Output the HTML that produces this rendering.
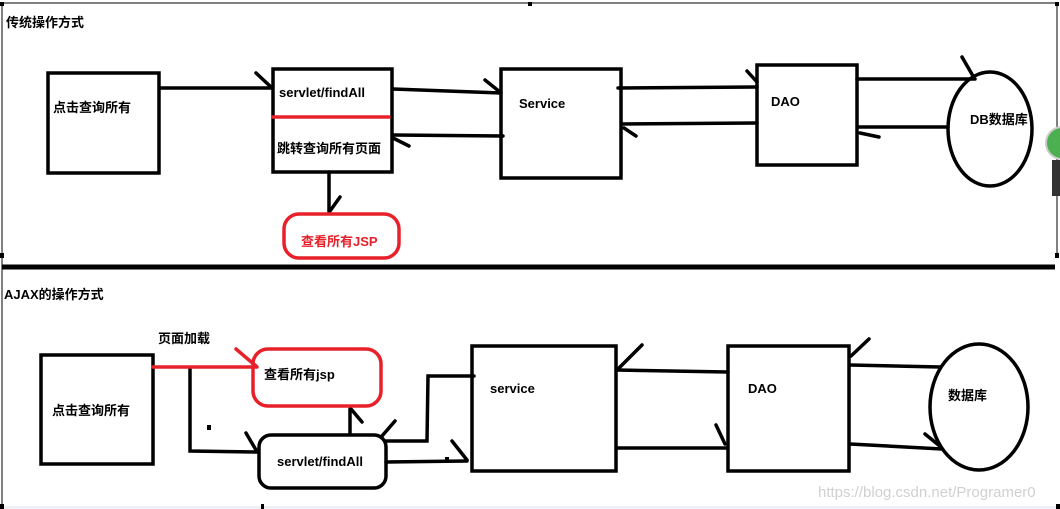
<!DOCTYPE html>
<html><head><meta charset="utf-8"><style>
html,body{margin:0;padding:0;background:#fff;}
svg{display:block;}
text{font-family:"Liberation Sans","Noto Sans CJK SC",sans-serif;font-weight:bold;font-size:13px;fill:#000;}
</style></head><body>
<svg width="1060" height="509" viewBox="0 0 1060 509" xmlns="http://www.w3.org/2000/svg">
<rect x="0" y="0" width="1060" height="509" fill="#fff"/>
<rect x="0" y="506" width="1060" height="3" fill="#eef2f6"/>
<g stroke="#000" stroke-width="1" fill="none">
<line x1="2" y1="3" x2="1057" y2="3"/>
<line x1="2" y1="3" x2="2" y2="506"/>
<line x1="1057" y1="3" x2="1057" y2="256"/>
</g>
<g fill="#000">
<rect x="0" y="2" width="4" height="4"/><rect x="528" y="2" width="4" height="4"/><rect x="1055" y="2" width="4" height="4"/>
<rect x="0" y="253" width="4" height="5"/><rect x="1055" y="253" width="4" height="5"/>
<rect x="0" y="504" width="4" height="5"/><rect x="261" y="504" width="3" height="5"/><rect x="1056" y="504" width="4" height="5"/>
</g>
<line x1="2" y1="267" x2="1055" y2="267" stroke="#000" stroke-width="5"/>

<text x="6" y="27">传统操作方式</text>
<text x="4" y="299">AJAX的操作方式</text>

<g stroke="#000" stroke-width="3.5" fill="none" stroke-linecap="round">
<rect x="48" y="73" width="111" height="100"/>
<rect x="273" y="69" width="119" height="103"/>
<rect x="501" y="69" width="120" height="109"/>
<rect x="757" y="65" width="100" height="100"/>
<ellipse cx="990" cy="129" rx="42" ry="57"/>
<line x1="160" y1="88" x2="272" y2="88"/><line x1="256" y1="73" x2="271" y2="87"/>
<line x1="393" y1="89" x2="501" y2="93"/><line x1="485" y1="80" x2="500" y2="92"/>
<line x1="503" y1="136" x2="393" y2="135"/><line x1="393" y1="138" x2="409" y2="146"/>
<line x1="618" y1="88" x2="757" y2="87"/><line x1="747" y1="71" x2="757" y2="82"/>
<line x1="757" y1="123" x2="623" y2="124"/><line x1="624" y1="128" x2="636" y2="136"/>
<line x1="857" y1="79" x2="975" y2="79"/><line x1="962" y1="57" x2="973" y2="76"/>
<line x1="948" y1="127" x2="858" y2="127"/><line x1="860" y1="133" x2="879" y2="137"/>
<line x1="329" y1="172" x2="329" y2="212"/><line x1="340" y1="197" x2="330" y2="211"/>
<rect x="41" y="355" width="112" height="109"/>
<rect x="472" y="346" width="144" height="125"/>
<rect x="728" y="346" width="121" height="125"/>
<ellipse cx="979" cy="407" rx="49" ry="63"/>
<rect x="259" y="435" width="127" height="53" rx="12"/>
<polyline points="190,369 190,451 257,452"/><line x1="246" y1="433" x2="256" y2="450"/>
<line x1="350" y1="434" x2="350" y2="409"/><line x1="351" y1="409" x2="362" y2="422"/>
<line x1="382" y1="436" x2="395" y2="421"/>
<polyline points="386,441 427,441 428,376 474,376"/>
<line x1="386" y1="462" x2="467" y2="461"/><line x1="452" y1="441" x2="467" y2="460"/>
<line x1="617" y1="370" x2="728" y2="372"/><line x1="642" y1="345" x2="619" y2="368"/>
<line x1="617" y1="448" x2="727" y2="448"/><line x1="716" y1="425" x2="725" y2="444"/>
<line x1="850" y1="365" x2="940" y2="367"/><line x1="869" y1="339" x2="851" y2="356"/>
<line x1="850" y1="444" x2="942" y2="449"/><line x1="925" y1="434" x2="941" y2="447"/>
</g>
<rect x="207" y="425" width="4" height="5" fill="#000"/>
<rect x="445" y="457" width="4" height="4" fill="#000"/>
<g stroke="#e8202a" fill="none" stroke-width="3.5" stroke-linecap="round">
<line x1="273" y1="117" x2="389" y2="117"/>
<rect x="284" y="214" width="115" height="44" rx="15"/>
<rect x="253" y="349" width="128" height="57" rx="15"/>
<line x1="153" y1="367" x2="257" y2="367"/><line x1="236" y1="349" x2="256" y2="366"/>
</g>
<text x="53" y="112">点击查询所有</text>
<text x="279" y="97">servlet/findAll</text>
<text x="277" y="153">跳转查询所有页面</text>
<text x="519" y="108">Service</text>
<text x="771" y="106">DAO</text>
<text x="970" y="124">DB数据库</text>
<text x="301" y="246" style="fill:#e8202a">查看所有JSP</text>
<text x="158" y="343">页面加载</text>
<text x="264" y="379">查看所有jsp</text>
<text x="52" y="415">点击查询所有</text>
<text x="277" y="466">servlet/findAll</text>
<text x="490" y="393">service</text>
<text x="748" y="393">DAO</text>
<text x="948" y="400">数据库</text>
<text x="818" y="497" style="font-weight:normal;font-size:15px;fill:#d0d0d0">https://blog.csdn.net/Programer0</text>
<circle cx="1062" cy="143" r="16" fill="#4caf50" stroke="#ccc" stroke-width="2"/>
<rect x="1052" y="160" width="10" height="36" fill="#333"/>
</svg>
</body></html>
